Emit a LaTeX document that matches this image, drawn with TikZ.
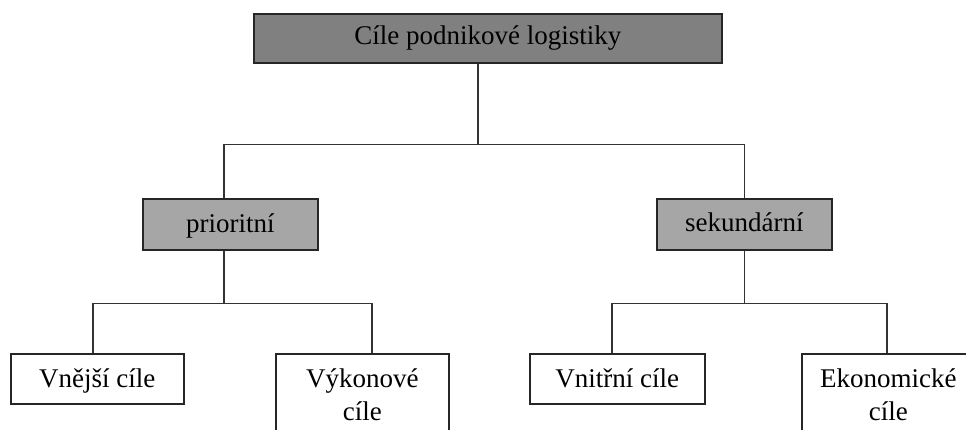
\documentclass[tikz,border=0pt]{standalone}
\usepackage{fontspec}
\setmainfont{Liberation Serif}
\begin{document}
\begin{tikzpicture}[x=1pt,y=-1pt,
  box/.style={draw=black!85, line width=1.6pt, rectangle, inner sep=0pt, minimum width=173pt, minimum height=50pt, anchor=north west},
  topbox/.style={box, fill=black!50, minimum width=468pt, minimum height=49pt},
  midbox/.style={box, fill=black!35, minimum width=175pt, minimum height=51pt},
  lbl/.style={anchor=base, inner sep=0pt, font=\fontsize{27}{33}\selectfont, text=black},
  conn/.style={draw=black!80, line width=1.5pt}]
\useasboundingbox (0,0) rectangle (966,430);
\clip (0,0) rectangle (966,430);
% boxes
\node[topbox] (top) at (253,13) {};
\node[midbox] (pri) at (142,198) {};
\node[midbox] (sek) at (656,198) {};
\node[box] (vne) at (10,353) {};
\node[box, minimum height=95pt] (vyk) at (275,353) {};
\node[box, minimum width=175pt] (vni) at (529,353) {};
\node[box, minimum height=95pt] (eko) at (801,353) {};
% labels
\node[lbl] (ttop) at ([yshift=-32]top.north) {Cíle podnikové logistiky};
\node[lbl] (tpri) at ([yshift=-34.5]pri.north) {prioritní};
\node[lbl] (tsek) at ([yshift=-34]sek.north) {sekundární};
\node[lbl] (tvne) at ([yshift=-34]vne.north) {Vnější cíle};
\node[lbl] (tvyk1) at ([yshift=-34]vyk.north) {Výkonové};
\node[lbl] (tvyk2) at ([yshift=-67]vyk.north) {cíle};
\node[lbl] (tvni) at ([yshift=-34]vni.north) {Vnitřní cíle};
\node[lbl] (teko1) at ([yshift=-34]eko.north) {Ekonomické};
\node[lbl] (teko2) at ([yshift=-67]eko.north) {cíle};
% connectors
\draw[conn] ([xshift=-10]top.south) -- ++(0,81) coordinate (b1);
\draw[conn] ([xshift=-6.5]pri.north) |- (b1) -| (sek.north);
\draw[conn] ([xshift=-6.5]pri.south) -- ++(0,53) coordinate (b2);
\draw[conn] ([xshift=-4.5]vne.north) |- (b2) -| ([xshift=9.5]vyk.north);
\draw[conn] (sek.south) -- ++(0,53) coordinate (b3);
\draw[conn] ([xshift=-5.5]vni.north) |- (b3) -| ([xshift=-1.5]eko.north);
\end{tikzpicture}
\end{document}
